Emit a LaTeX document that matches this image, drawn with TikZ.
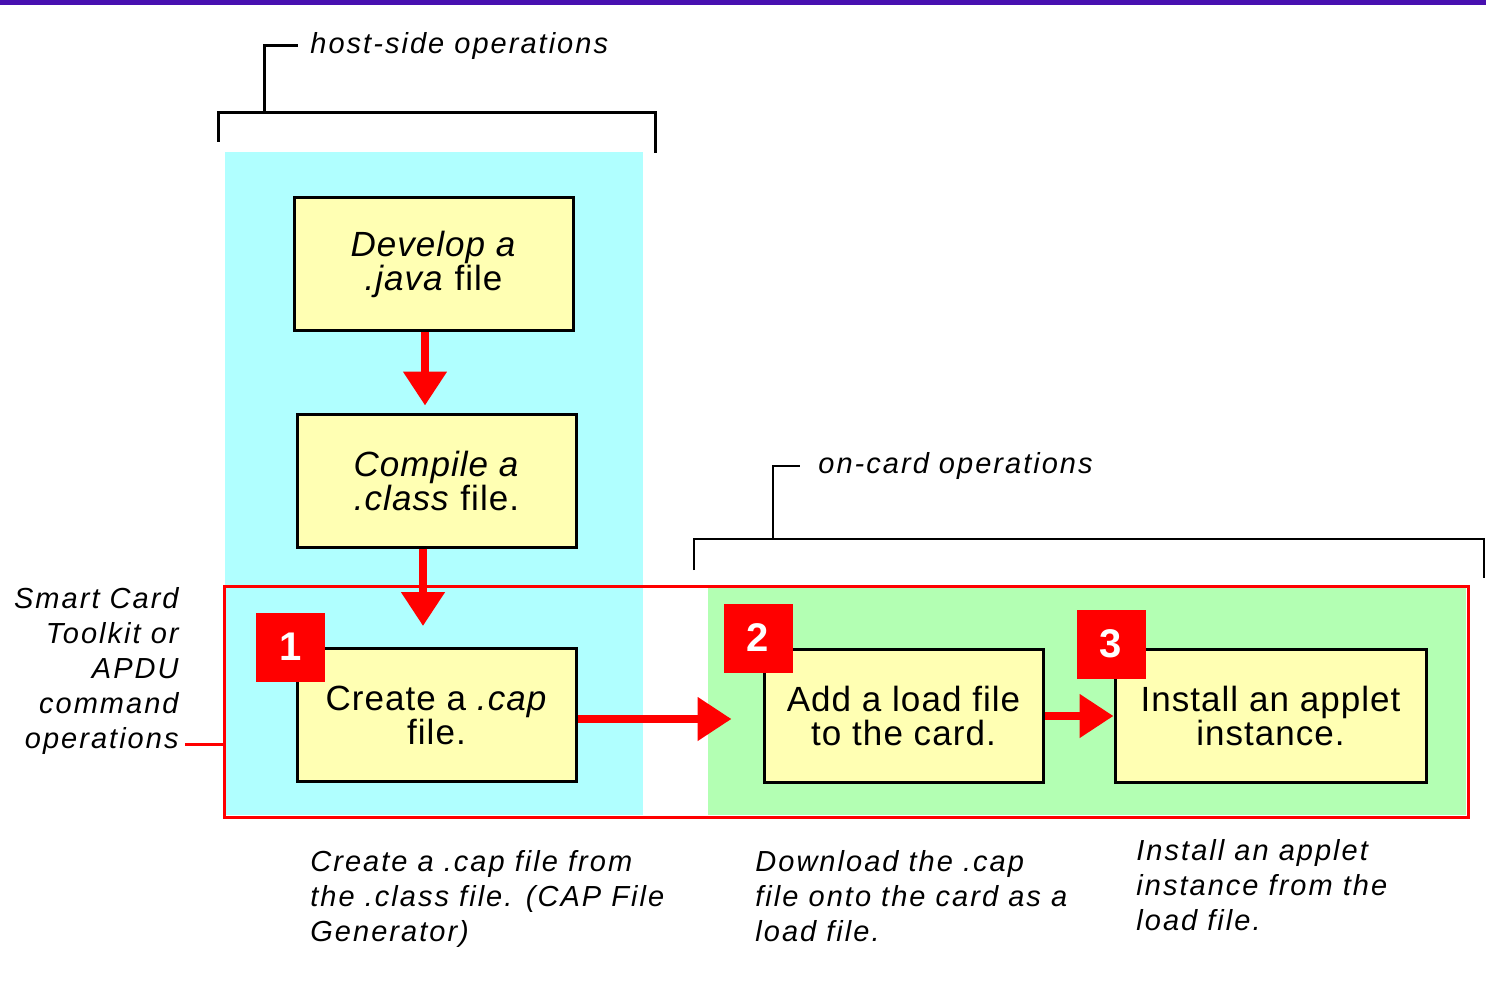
\documentclass[tikz,border=0pt]{standalone}
\usepackage{fontspec}
\setmainfont{Liberation Sans}
\usepackage{xcolor}
\usetikzlibrary{shapes,arrows,positioning,calc,arrows.meta}

\definecolor{hostcyan}{RGB}{176,255,255}
\definecolor{cardgreen}{RGB}{179,255,179}
\definecolor{stepyellow}{RGB}{255,255,179}
\definecolor{barpurple}{RGB}{72,16,176}

\newcommand{\opsfont}{\fontsize{29}{35}\selectfont\itshape\addfontfeature{LetterSpace=7}}
\newcommand{\stepfont}{\fontsize{35}{34}\selectfont\addfontfeature{LetterSpace=3}}

\begin{document}
\begin{tikzpicture}[x=1pt, y=-1pt, >=latex, thick,
    stepbox/.style={draw, line width=3pt, fill=stepyellow, inner sep=0pt,
        minimum width=279pt, minimum height=133pt, align=center, font=\stepfont},
    badge/.style={fill=red, minimum size=69pt, inner sep=0pt, text=white,
        font=\fontsize{40}{40}\selectfont\bfseries},
    flow/.style={red, line width=8pt, -{Triangle[width=42pt,length=34pt]}},
    ops/.style={inner sep=0pt, font=\opsfont},
    bracket/.style={line width=3pt}]
    \useasboundingbox (0,0) rectangle (1486,992);
    \fill[barpurple] (0,0) rectangle (1486,5);

    % Host side
    \fill[hostcyan] (225,152) rectangle (643,815);
    \draw[bracket] (218,142) -- (218,113) -- (655,113) -- (655,153);
    \node[ops, anchor=west] (hostlbl) at (310,46) {host-side operations};
    \draw[bracket] (264,113) |- ([xshift=-12pt]hostlbl.west);

    % On card
    \fill[cardgreen] (708,588) rectangle (1466,815);
    \draw[bracket, line width=2.2pt] (694,570) -- (694,539) -- (1484,539) -- (1484,578);
    \node[ops, anchor=west] (cardlbl) at (818,466) {on-card operations};
    \draw[bracket, line width=2.2pt] (773,539) |- ([xshift=-18pt]cardlbl.west);

    % Command operations frame
    \node[draw=red, line width=3pt, minimum width=1244pt, minimum height=231pt,
        inner sep=0pt] (cmdframe) at (846,701.5) {};
    \node[ops, anchor=north east, align=right] (cmdlbl) at (179,587)
        {Smart Card\\Toolkit or\\APDU\\command\\operations};
    \coordinate (tick) at ([shift={(6,-10)}]cmdlbl.south east);
    \draw[red, line width=3pt] (tick) -- (tick -| cmdframe.west);

    % Steps
    \node[stepbox] (develop) at (433.5,264.5) {\textit{Develop a}\\\textit{.java} file};
    \node[stepbox] (compile) at (436.5,480.5) {\textit{Compile a}\\\textit{.class} file.};
    \node[stepbox] (create) at (436.5,715) {Create a \textit{.cap}\\file.};
    \node[stepbox] (loadfile) at (903.5,716) {Add a load file\\to the card.};
    \node[stepbox, minimum width=311pt] (install) at (1270.5,716) {Install an applet\\instance.};

    \draw[flow, shorten >=7pt] ([xshift=-8.5pt]develop.south) -- ([xshift=-11.5pt]compile.north);
    \draw[flow, shorten >=21pt] ([xshift=-13.5pt]compile.south) -- ([xshift=-13.5pt]create.north);
    \draw[flow, shorten >=31pt] ([yshift=-4pt]create.east) -- ([yshift=-3pt]loadfile.west);
    \draw[flow] (loadfile.east) -- (install.west);

    \node[badge] (one) at (290.5,647) {1};
    \node[badge] (two) at (758,638) {2};
    \node[badge] (three) at (1111,644) {3};

    % Notes
    \node[ops, anchor=north west, align=left] (capnote) at (310,850)
        {Create a .cap file from\\the .class file. (CAP File\\Generator)};
    \node[ops, anchor=north west, align=left] (loadnote) at (755,850)
        {Download the .cap\\file onto the card as a\\load file.};
    \node[ops, anchor=north west, align=left] (instnote) at (1136,839)
        {Install an applet\\instance from the\\load file.};
\end{tikzpicture}
\end{document}
